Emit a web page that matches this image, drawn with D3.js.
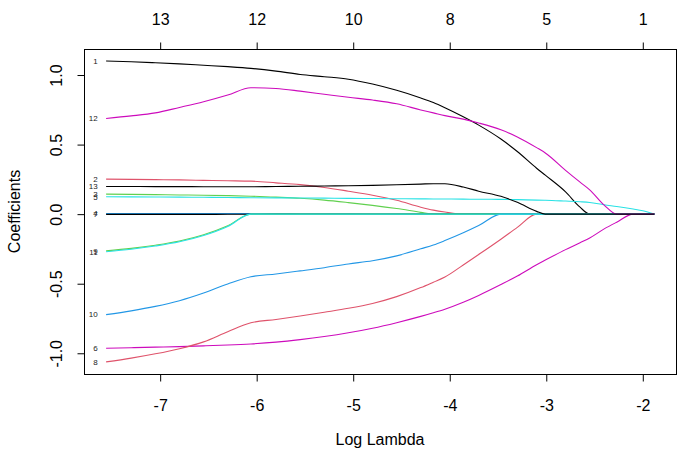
<!DOCTYPE html>
<html>
<head>
<meta charset="utf-8">
<script src="https://cdn.jsdelivr.net/npm/d3@7"></script>
<style>
  html, body { margin: 0; padding: 0; background: #ffffff; }
  svg { display: block; }
  text { font-family: "Liberation Sans", Arial, Helvetica, sans-serif; }
</style>
</head>
<body>
<svg id="chart" width="685" height="459"></svg>
<script>
// ---------- data ----------
const logLambda = [-7.56, -7.3, -7.05, -6.8, -6.55, -6.3, -6.06, -5.8, -5.55, -5.3, -5.05, -4.8, -4.55, -4.3, -4.17, -4.05, -3.86, -3.7, -3.47, -3.3, -3.1, -3.01, -2.8, -2.65, -2.55, -2.4, -2.27, -2.1, -2.0, -1.88];

const coef1  = [1.101,1.095,1.088,1.080,1.070,1.060,1.048,1.028,1.004,0.988,0.970,0.935,0.890,0.835,0.802,0.765,0.700,0.640,0.540,0.450,0.330,0.280,0.160,0.050,0,0,0,0,0,0];
const coef2  = [0.252,0.250,0.248,0.246,0.243,0.240,0.237,0.225,0.212,0.192,0.165,0.136,0.100,0.050,0.029,0.015,0,0,0,0,0,0,0,0,0,0,0,0,0,0];
const coef3  = [0.144,0.142,0.140,0.138,0.136,0.133,0.129,0.122,0.114,0.101,0.083,0.063,0.040,0.013,0,0,0,0,0,0,0,0,0,0,0,0,0,0,0,0];
const coef4  = [0.004,0.004,0.004,0.004,0.004,0.004,0.004,0.004,0.003,0.003,0.002,0.001,0,0,0,0,0,0,0,0,0,0,0,0,0,0,0,0,0,0];
const coef5  = [0.125,0.124,0.123,0.122,0.121,0.120,0.118,0.117,0.116,0.115,0.113,0.112,0.111,0.110,0.109,0.109,0.108,0.107,0.106,0.104,0.101,0.100,0.094,0.089,0.084,0.067,0.055,0.037,0.025,0];
const coef6  = [-0.964,-0.960,-0.956,-0.952,-0.947,-0.941,-0.933,-0.920,-0.902,-0.880,-0.853,-0.820,-0.780,-0.735,-0.709,-0.683,-0.633,-0.584,-0.506,-0.445,-0.363,-0.330,-0.255,-0.205,-0.171,-0.106,-0.058,0,0,0];
const coef7  = [-0.002,-0.002,-0.002,-0.002,-0.002,-0.001,-0.001,0,0,0,0,0,0,0,0,0,0,0,0,0,0,0,0,0,0,0,0,0,0,0];
const coef8  = [-1.062,-1.035,-1.004,-0.967,-0.918,-0.845,-0.781,-0.757,-0.732,-0.705,-0.677,-0.642,-0.593,-0.528,-0.489,-0.452,-0.365,-0.290,-0.180,-0.095,0,0,0,0,0,0,0,0,0,0];
const coef9  = [-0.264,-0.246,-0.223,-0.193,-0.148,-0.083,0,0,0,0,0,0,0,0,0,0,0,0,0,0,0,0,0,0,0,0,0,0,0,0];
const coef10 = [-0.722,-0.695,-0.663,-0.622,-0.567,-0.502,-0.450,-0.430,-0.408,-0.385,-0.358,-0.335,-0.300,-0.249,-0.222,-0.190,-0.134,-0.082,0,0,0,0,0,0,0,0,0,0,0,0];
const coef11 = [-0.270,-0.252,-0.229,-0.199,-0.154,-0.089,0,0,0,0,0,0,0,0,0,0,0,0,0,0,0,0,0,0,0,0,0,0,0,0];
const coef12 = [0.688,0.706,0.728,0.767,0.808,0.856,0.909,0.903,0.884,0.862,0.840,0.820,0.793,0.749,0.728,0.708,0.683,0.655,0.606,0.555,0.478,0.440,0.315,0.230,0.175,0.065,0,0,0,0];
const coef13 = [0.199,0.199,0.198,0.198,0.197,0.197,0.197,0.199,0.200,0.202,0.204,0.207,0.211,0.216,0.219,0.218,0.195,0.165,0.128,0.085,0.020,0,0,0,0,0,0,0,0,0];

const varLabels = ["1","2","3","4","5","6","7","8","9","10","11","12","13"];
const palette = ["#000000", "#DF536B", "#61D04F", "#2297E6", "#28E2E5", "#CD0BBC"];

const bottomTicks = [-7, -6, -5, -4, -3, -2];
const topTickLabels = ["13", "12", "10", "8", "5", "1"];
const yTicks = [-1.0, -0.5, 0.0, 0.5, 1.0];

const xTitle = "Log Lambda";
const yTitle = "Coefficients";

// ---------- build ----------
const series = [coef1, coef2, coef3, coef4, coef5, coef6, coef7, coef8, coef9, coef10, coef11, coef12, coef13]
  .map((vals, i) => ({ label: varLabels[i], color: palette[i % palette.length], values: vals }));

const box = { left: 84, right: 676, top: 49, bottom: 374 };

const svg = d3.select("#chart");

const x = d3.scaleLinear().domain([-7.789, -1.656]).range([box.left, box.right]);
const y = d3.scaleLinear().domain([-1.149, 1.187]).range([box.bottom, box.top]);

// lines
const line = d3.line()
  .x((d, i) => x(logLambda[i]))
  .y(d => y(d))
  .curve(d3.curveMonotoneX);

svg.append("g")
  .selectAll("path")
  .data(series)
  .join("path")
  .attr("d", d => line(d.values))
  .attr("fill", "none")
  .attr("stroke", d => d.color)
  .attr("stroke-width", 1.1);

// left-side variable labels
svg.append("g")
  .selectAll("text")
  .data(series)
  .join("text")
  .attr("x", x(logLambda[0]) - 8.5)
  .attr("y", d => y(d.values[0]))
  .attr("dy", "0.35em")
  .attr("text-anchor", "end")
  .attr("font-size", "8px")
  .attr("fill", "#222")
  .text(d => d.label);

// box
svg.append("rect")
  .attr("x", box.left + 0.5)
  .attr("y", box.top + 0.5)
  .attr("width", box.right - box.left)
  .attr("height", box.bottom - box.top)
  .attr("fill", "none")
  .attr("stroke", "#000")
  .attr("stroke-width", 1);

// bottom axis
const gB = svg.append("g")
  .attr("transform", `translate(0,${box.bottom + 0.5})`)
  .call(d3.axisBottom(x).tickValues(bottomTicks).tickSize(7).tickSizeOuter(0).tickFormat(d3.format("d")));
gB.select(".domain").remove();
gB.selectAll("text").attr("y", 36).attr("dy", null).attr("font-size", "16px").attr("font-family", null).attr("fill", "#000")
  .text(d => String(d).replace("\u2212", "-"));
gB.selectAll("line").attr("stroke", "#000");

// top axis
const gT = svg.append("g")
  .attr("transform", `translate(0,${box.top + 0.5})`)
  .call(d3.axisTop(x).tickValues(bottomTicks).tickSize(7).tickSizeOuter(0).tickFormat((d, i) => topTickLabels[i]));
gT.select(".domain").remove();
gT.selectAll("text").attr("y", -25).attr("dy", null).attr("font-size", "16px").attr("font-family", null).attr("fill", "#000");
gT.selectAll("line").attr("stroke", "#000");

// left axis
const gL = svg.append("g")
  .attr("transform", `translate(${box.left + 0.5},0)`)
  .call(d3.axisLeft(y).tickValues(yTicks).tickSize(7).tickSizeOuter(0).tickFormat(d3.format(".1f")));
gL.select(".domain").remove();
gL.selectAll("text")
  .attr("x", null).attr("dy", null)
  .attr("text-anchor", "middle")
  .attr("transform", "translate(-23,0) rotate(-90)")
  .attr("font-size", "16px").attr("font-family", null).attr("fill", "#000")
  .text(d => d3.format(".1f")(d).replace("\u2212", "-"));
gL.selectAll("line").attr("stroke", "#000");

// titles
svg.append("text")
  .attr("x", (box.left + box.right) / 2)
  .attr("y", 445)
  .attr("text-anchor", "middle")
  .attr("font-size", "16px")
  .text(xTitle);

svg.append("text")
  .attr("transform", `translate(20,${(box.top + box.bottom) / 2}) rotate(-90)`)
  .attr("text-anchor", "middle")
  .attr("font-size", "16px")
  .text(yTitle);
</script>
</body>
</html>
